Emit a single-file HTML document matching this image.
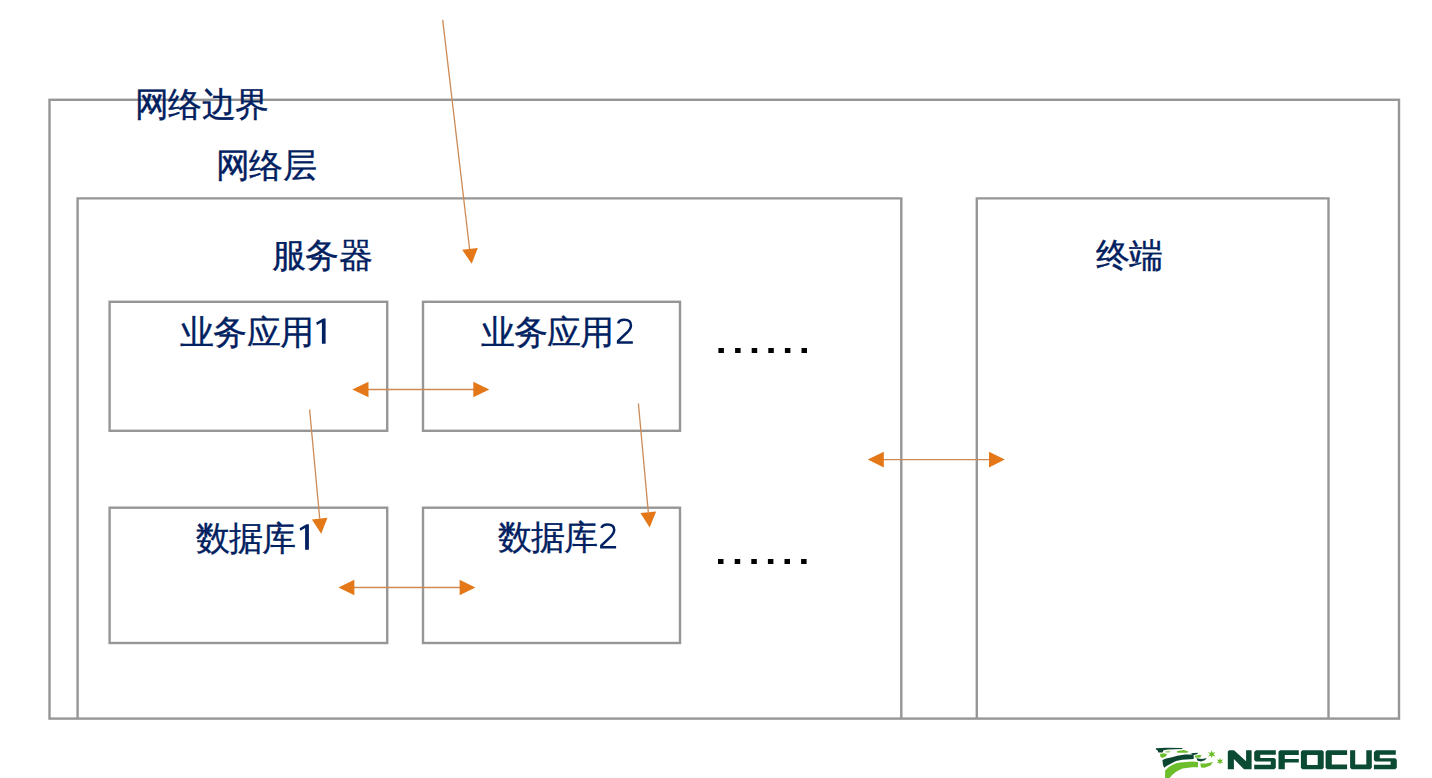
<!DOCTYPE html>
<html>
<head>
<meta charset="utf-8">
<style>
html,body{margin:0;padding:0;background:#fff;}
body{width:1432px;height:778px;position:relative;overflow:hidden;font-family:"Liberation Sans",sans-serif;}
svg{position:absolute;left:0;top:0;}
.t{position:absolute;white-space:nowrap;font-size:34px;line-height:34px;color:#002060;letter-spacing:-0.7px;-webkit-text-stroke:0.35px #002060;}
.d{font-size:37px;letter-spacing:0;-webkit-text-stroke:0;}
</style>
</head>
<body>
<svg id="g" width="1432" height="778" viewBox="0 0 1432 778">
  <g fill="none" stroke="#969696" stroke-width="2.4">
    <rect x="49.5" y="99.8" width="1349.5" height="618.8"/>
    <path d="M77.6 718.6 V198.4 H901.3 V718.6"/>
    <path d="M976.8 718.6 V198.4 H1328.5 V718.6"/>
    <rect x="109.6" y="301.8" width="277.6" height="129"/>
    <rect x="423" y="301.8" width="257" height="129"/>
    <rect x="109.6" y="507.7" width="277.6" height="135.3"/>
    <rect x="423" y="507.7" width="257" height="135.3"/>
  </g>
</svg>
<div class="t" id="l1" style="left:135px;top:87px">网络边界</div>
<div class="t" id="l2" style="left:216px;top:148px">网络层</div>
<div class="t" id="l3" style="left:272px;top:238px">服务器</div>
<div class="t" id="l4" style="left:1095.6px;top:238px">终端</div>
<div class="t" id="l5" style="left:180px;top:315px">业务应用</div>
<div class="t" id="l6" style="left:480.5px;top:315px">业务应用</div>
<div class="t" id="l7" style="left:195.5px;top:521px">数据库</div>
<div class="t" id="l8" style="left:497.5px;top:520px">数据库</div>
<svg width="1432" height="778" viewBox="0 0 1432 778">
  <g fill="#000">
    <rect x="718.4" y="348" width="5.5" height="5"/>
    <rect x="735.1" y="348" width="5.5" height="5"/>
    <rect x="751.7" y="348" width="5.5" height="5"/>
    <rect x="768.3" y="348" width="5.5" height="5"/>
    <rect x="784.9" y="348" width="5.5" height="5"/>
    <rect x="801.5" y="348" width="5.5" height="5"/>
    <rect x="718" y="559" width="5.5" height="5"/>
    <rect x="734.7" y="559" width="5.5" height="5"/>
    <rect x="751.3" y="559" width="5.5" height="5"/>
    <rect x="767.9" y="559" width="5.5" height="5"/>
    <rect x="784.5" y="559" width="5.5" height="5"/>
    <rect x="801.1" y="559" width="5.5" height="5"/>
  </g>
  <g fill="#002060">
    <polygon points="325.6,318.6 325.6,343.7 321.9,343.7 321.9,322.2 317.0,325.0 316.2,322.4 323.2,318.6"/>
    <polygon points="308.9,524.3 308.9,549.7 305.1,549.7 305.1,528.0 300.4,530.8 299.6,528.2 306.5,524.3"/>
  </g>
  <g fill="none" stroke="#002060" stroke-width="2.5" stroke-linejoin="miter">
    <path id="two" d="M601.4,527.9 C602.2,525.4 604.5,524.4 607.6,524.4 C611.9,524.4 614.2,526.8 614.2,530.0 C614.2,533.2 612.2,535.4 609.2,538.1 L601.35,545.6 L601.35,547.15 L616.1,547.15"/>
    <path transform="translate(16.75,-204.6)" d="M601.4,527.9 C602.2,525.4 604.5,524.4 607.6,524.4 C611.9,524.4 614.2,526.8 614.2,530.0 C614.2,533.2 612.2,535.4 609.2,538.1 L601.35,545.6 L601.35,547.15 L616.1,547.15"/>
  </g>
  <g stroke="#CD8A55" stroke-width="1.3" fill="none">
    <line x1="442.7" y1="19.8" x2="469.6" y2="249"/>
    <line x1="309.6" y1="409.5" x2="319.7" y2="518.6"/>
    <line x1="638.4" y1="403.5" x2="648.3" y2="512.2"/>
    <line x1="368" y1="389.5" x2="474" y2="389.5"/>
    <line x1="354" y1="587.5" x2="460" y2="587.5"/>
    <line x1="883" y1="459.6" x2="989.5" y2="459.6"/>
  </g>
  <g fill="#E47818">
    <polygon points="462.2,249.8 477.8,248 471.7,263.8"/>
    <polygon points="311.9,519.4 327.5,517.8 321.2,533.7"/>
    <polygon points="640.4,513 656.2,511.4 649.7,527.6"/>
    <polygon points="352.3,389.5 368.5,381.7 368.5,397.3"/>
    <polygon points="489.3,389.5 473.3,381.7 473.3,397.3"/>
    <polygon points="338.4,587.5 354.4,579.7 354.4,595.3"/>
    <polygon points="475.4,587.5 459.6,579.7 459.6,595.3"/>
    <polygon points="867.8,459.6 883.8,451.7 883.8,467.6"/>
    <polygon points="1004.8,459.6 989,451.7 989,467.6"/>
  </g>
</svg>
<svg width="1432" height="778" viewBox="0 0 1432 778">
  <g fill="#0B4A33">
    <polygon points="1227.8,751.6 1229.2,750.2 1234,750.2 1246.1,761.2 1246.1,750.2 1251.6,750.2 1251.6,769.2 1244,769.2 1233.9,759.1 1233.9,769.2 1227.8,769.2"/>
    <polygon points="1254.2,752 1256,750.2 1275.8,750.2 1275.8,754.8 1260.3,754.8 1260.3,758.1 1274.3,758.1 1275.8,759.6 1275.8,767.7 1274.3,769.2 1254.2,769.2 1254.2,764.8 1270.8,764.8 1270.8,761.6 1255.7,761.6 1254.2,760.1"/>
    <polygon points="1278.5,751.7 1280,750.2 1298.8,750.2 1298.8,755 1284.8,755 1284.8,759 1298.8,759 1298.8,762.6 1284.8,762.6 1284.8,769.3 1278.5,769.3"/>
    <path fill-rule="evenodd" d="M1300.9,751.7 L1302.4,750.2 L1322.2,750.2 L1323.7,751.7 L1323.7,767.8 L1322.2,769.3 L1302.4,769.3 L1300.9,767.8 Z M1306.9,755 L1306.9,764.9 L1317.7,764.9 L1317.7,755 Z"/>
    <polygon points="1325.6,751.7 1327.1,750.2 1347.1,750.2 1347.1,755.1 1331.8,755.1 1331.8,764.5 1347.1,764.5 1347.1,769.2 1327.1,769.2 1325.6,767.7"/>
    <polygon points="1350.1,750.2 1355.2,750.2 1355.2,764.5 1366.3,764.5 1366.3,750.2 1371.8,750.2 1371.8,767.7 1370.3,769.2 1351.6,769.2 1350.1,767.7"/>
    <polygon points="1373.9,752.2 1375.9,750.2 1395.8,750.2 1395.8,754.7 1379.8,754.7 1379.8,758.2 1395.3,758.2 1396.8,759.7 1396.8,767.8 1395.3,769.3 1373.9,769.3 1373.9,764.75 1390.6,764.75 1390.6,761.5 1375.4,761.5 1373.9,760"/>
  </g>
  <g fill="#0A4630">
    <polygon points="1155.8,748.3 1166,747.8 1182.3,748 1182.3,749 1168,749.4 1163.5,750.3 1162.5,752.6 1158.4,752.6 1157.6,750.4 1156,749.6"/>
    <polygon points="1162.4,760 1166,758.6 1171,757.6 1177.4,755.8 1185,754.4 1193.7,754.6 1193.7,758.9 1182.2,759.7 1176,761 1171.7,763.2 1166.5,766 1164.2,767.8 1163,765"/>
    <polygon points="1191.1,753.3 1194,752.9 1197.8,752.8 1197.4,754 1194.2,755.1 1192.2,754.7"/>
    <polygon points="1196.4,758.3 1202,758.9 1206.9,757.9 1204.8,760.2 1201,761.5 1197.6,760.8"/>
  </g>
  <g fill="#6CBE2B">
    <polygon points="1160,754 1163.5,753.2 1167.2,754.2 1165.6,756.6 1162,758 1160.3,756.4"/>
    <polygon points="1165.2,751.2 1170.4,750.5 1170,752.6 1165.8,752.8" fill-opacity="0.6"/>
    <polygon points="1177,751 1184,750 1188.7,751.8 1187,752.7 1177.4,752.8"/>
    <path d="M1165.1,770.4 Q1171.5,763.6 1180.4,762.6 L1192,761.5 L1198,761.9 L1198,767.3 L1192,767.3 L1182.6,768.6 Q1174.5,771.5 1169.6,778 L1165.1,778 Z"/>
    <polygon points="1194.6,755.8 1199,755.1 1201.6,755.2 1200.2,757.6 1195.4,757.7"/>
    <polygon points="1200.3,763.6 1206,763.6 1213,761.9 1210.5,765.4 1204.5,767.7 1201,767.4"/>
    <polygon points="1211.7,750.3 1212.6,752.8 1215.5,752.2 1213.5,754.3 1215.5,756.6 1212.6,755.8 1211.7,758.3 1210.8,755.8 1208,756.6 1209.9,754.3 1208,752.2 1210.8,752.8"/>
    <polygon points="1220,757.8 1220.8,760 1223.3,759.5 1221.6,761.3 1223.3,763.2 1220.8,762.6 1220,764.8 1219.2,762.6 1216.7,763.2 1218.4,761.3 1216.7,759.5 1219.2,760"/>
  </g>
</svg>
</body>
</html>
